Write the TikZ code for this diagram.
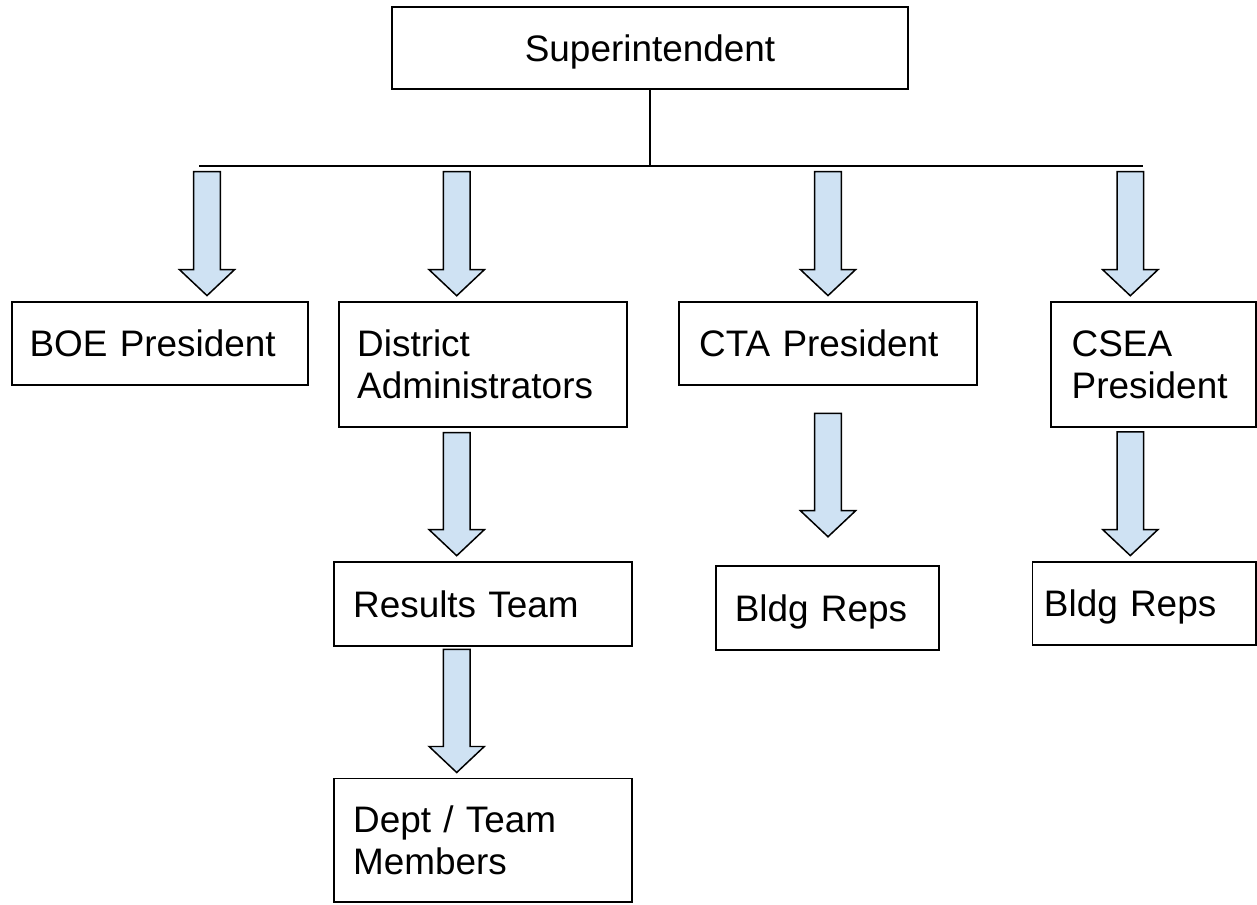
\documentclass[tikz,border=0pt]{standalone}
\usepackage{fontspec}
\setmainfont{Liberation Sans}
\usetikzlibrary{positioning}
\usetikzlibrary{calc}
\definecolor{pale}{HTML}{CFE2F3}
\tikzset{unit/.style = {draw, line width=1.1pt, inner sep=0pt, align=left,
                        font=\fontsize{21}{24}\selectfont,
                        text height=15pt, text depth=0pt},
         twoline/.style = {text depth=24pt},
         fat/.style = {draw, line width=0.85pt, fill=pale,
                       to path={($(\tikztostart)+(-13.3,0)$)
                                -- ($(\tikztotarget)+(-13.3,-26)$)
                                -- ($(\tikztotarget)+(-27.6,-26)$)
                                -- (\tikztotarget)
                                -- ($(\tikztotarget)+(27.6,-26)$)
                                -- ($(\tikztotarget)+(13.3,-26)$)
                                -- ($(\tikztostart)+(13.3,0)$) -- cycle}}}

\begin{document}
\begin{tikzpicture}[x=0.02cm, y=-0.02cm]
    \useasboundingbox (0, 0) rectangle (1257, 905);

    \node [unit, align=center, minimum width=10.33cm, minimum height=1.65cm]
        (sup) at (650, 48) {Superintendent};

    \node [unit, minimum width=5.92cm, minimum height=1.67cm, text width=5.2cm]
        (boe) at (159.6, 343.3) {BOE President};
    \node [unit, twoline, minimum width=5.76cm, minimum height=2.5cm, text width=5.02cm]
        (dist) at (482.7, 364.2) {District\\Administrators};
    \node [unit, minimum width=5.95cm, minimum height=1.67cm, text width=5.15cm]
        (cta) at (827.9, 343.3) {CTA President};
    \node [unit, twoline, minimum width=4.11cm, minimum height=2.5cm, text width=3.27cm]
        (csea) at (1153.4, 364.2) {CSEA\\President};

    \node [unit, minimum width=5.95cm, minimum height=1.67cm, text width=5.19cm]
        (res) at (482.9, 604) {Results Team};
    \node [unit, twoline, minimum width=5.95cm, minimum height=2.47cm, text width=5.19cm]
        (dept) at (482.9, 840.2) {Dept / Team\\Members};
    \node [unit, minimum width=4.47cm, minimum height=1.68cm, text width=3.71cm]
        (bldgA) at (827.5, 608) {Bldg Reps};
    \node [unit, minimum width=4.47cm, minimum height=1.67cm, text width=4.01cm]
        (bldgB) at (1144.2, 603.3) {Bldg Reps};

    % trunk and bar
    \coordinate (bar-l) at (199, 166);
    \coordinate (bar-r) at (1143, 166);
    \draw [line width=1.1pt] (sup.south) -- (sup.south |- bar-l);
    \draw [line width=1.1pt] (bar-l) -- (bar-r);

    \foreach \x/\n in {207/boe, 456.7/dist, 828/cta, 1130.3/csea} {
        \coordinate (\n-in) at ($(\x, 0 |- \n.north)+(0, -5)$);
        \coordinate (\n-out) at ($(\x, 0 |- bar-l)+(0, 5.7)$);
        \draw [fat] (\n-out) to (\n-in);
    }

    \foreach \x/\a/\b/\ga/\gb in {456.7/dist/res/5/5.6, 828/cta/bldgA/27.3/28.3,
                                  1130.3/csea/bldgB/4.3/5, 456.7/res/dept/2.6/5} {
        \coordinate (\a-dn) at ($(\x, 0 |- \a.south)+(0, \ga)$);
        \coordinate (\b-up) at ($(\x, 0 |- \b.north)+(0, -\gb)$);
        \draw [fat] (\a-dn) to (\b-up);
    }
\end{tikzpicture}
\end{document}
